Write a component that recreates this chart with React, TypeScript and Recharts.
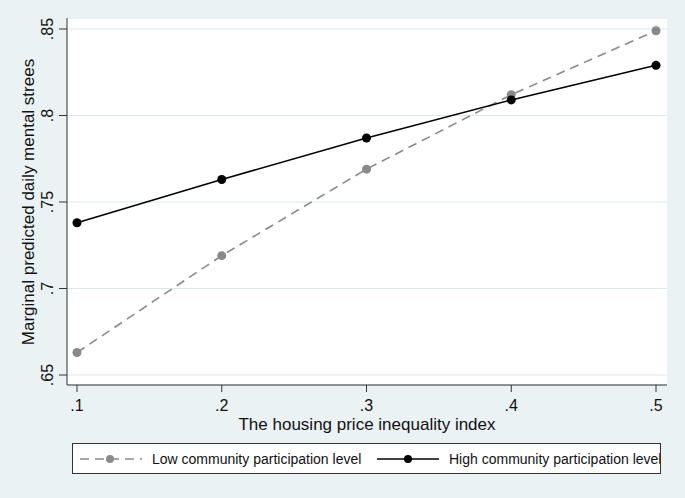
import React from "react"
import { LineChart, Line, XAxis, YAxis, CartesianGrid, Label } from "recharts"

// x positions (housing price inequality index)
const xValues = [0.1, 0.2, 0.3, 0.4, 0.5]
// marginal predicted daily mental stress
const lowParticipation = [0.663, 0.719, 0.769, 0.812, 0.849]
const highParticipation = [0.738, 0.763, 0.787, 0.809, 0.829]

const xTicks = [0.1, 0.2, 0.3, 0.4, 0.5]
const yTicks = [0.65, 0.7, 0.75, 0.8, 0.85]

const FONT = "'Liberation Sans', Arial, sans-serif"
const BG = "#eaf2f3"
const GRAY = "#8a8a8a"

const data = xValues.map((x, i) => ({ x, low: lowParticipation[i], high: highParticipation[i] }))

// strip leading zero, Stata style: .1, .85
const fmt = (v: number) => String(+v.toFixed(2)).replace(/^0/, "")

const XTick = ({ x, y, payload }: any) => (
  <text x={x} y={y} dy={17} textAnchor="middle" fontSize={16} fill="#111" fontFamily={FONT}>
    {fmt(payload.value)}
  </text>
)

const YTick = ({ x, y, payload }: any) => {
  const bx = x - 4
  return (
    <text
      x={bx}
      y={y}
      transform={`rotate(-90, ${bx}, ${y})`}
      textAnchor="middle"
      fontSize={16}
      fill="#111"
      fontFamily={FONT}
    >
      {fmt(payload.value)}
    </text>
  )
}

function LegendBox() {
  return (
    <div
      style={{
        position: "absolute",
        left: 72,
        top: 443,
        width: 587,
        height: 29,
        border: "1px solid #333",
        background: "#fff",
        overflow: "hidden",
        fontFamily: FONT,
        fontSize: 14,
        color: "#111",
      }}
    >
      <svg width={587} height={29} style={{ position: "absolute", left: 0, top: 0 }}>
        <line x1={7} x2={69} y1={15} y2={15} stroke={GRAY} strokeWidth={1.6} strokeDasharray="9 6" />
        <circle cx={37} cy={15} r={4} fill={GRAY} />
        <text x={79} y={20} fontSize={14} fill="#111" fontFamily={FONT}>
          Low community participation level
        </text>
        <line x1={304} x2={366} y1={15} y2={15} stroke="#000" strokeWidth={1.6} />
        <circle cx={335} cy={15} r={4} fill="#000" />
        <text x={376} y={20} fontSize={14} fill="#111" fontFamily={FONT}>
          High community participation level
        </text>
      </svg>
    </div>
  )
}

export default function App() {
  return (
    <div style={{ position: "absolute", left: 0, top: 0, width: 685, height: 498, background: BG }}>
      <LineChart width={685} height={498} data={data} margin={{ top: 18, right: 18, left: 0, bottom: 63 }}>
        <CartesianGrid vertical={false} stroke="#dde8eb" fill="#fff" />
        <XAxis
          dataKey="x"
          type="number"
          domain={[0.1, 0.5]}
          ticks={xTicks}
          padding={{ left: 10, right: 11 }}
          height={50}
          tickSize={7}
          tickMargin={2}
          tick={<XTick />}
          axisLine={{ stroke: "#333" }}
          tickLine={{ stroke: "#333" }}
        >
          <Label
            content={() => (
              <text x={367} y={430} textAnchor="middle" fontSize={17} fill="#111" fontFamily={FONT}>
                The housing price inequality index
              </text>
            )}
          />
        </XAxis>
        <YAxis
          type="number"
          domain={[0.65, 0.85]}
          ticks={yTicks}
          padding={{ top: 11, bottom: 10 }}
          width={67}
          tickSize={8}
          tickMargin={2}
          tick={<YTick />}
          axisLine={{ stroke: "#333" }}
          tickLine={{ stroke: "#333" }}
        >
          <Label
            content={() => (
              <text
                x={34}
                y={202}
                transform="rotate(-90, 34, 202)"
                textAnchor="middle"
                fontSize={17}
                fill="#111"
                fontFamily={FONT}
              >
                Marginal predicted daily mental strees
              </text>
            )}
          />
        </YAxis>
        <Line
          dataKey="low"
          stroke={GRAY}
          strokeWidth={1.6}
          strokeDasharray="9 6"
          dot={{ r: 4.5, fill: GRAY, stroke: GRAY, strokeWidth: 0, strokeDasharray: "" }}
          isAnimationActive={false}
        />
        <Line
          dataKey="high"
          stroke="#000"
          strokeWidth={1.6}
          dot={{ r: 4.5, fill: "#000", stroke: "#000", strokeWidth: 0 }}
          isAnimationActive={false}
        />
      </LineChart>
      <LegendBox />
    </div>
  )
}
